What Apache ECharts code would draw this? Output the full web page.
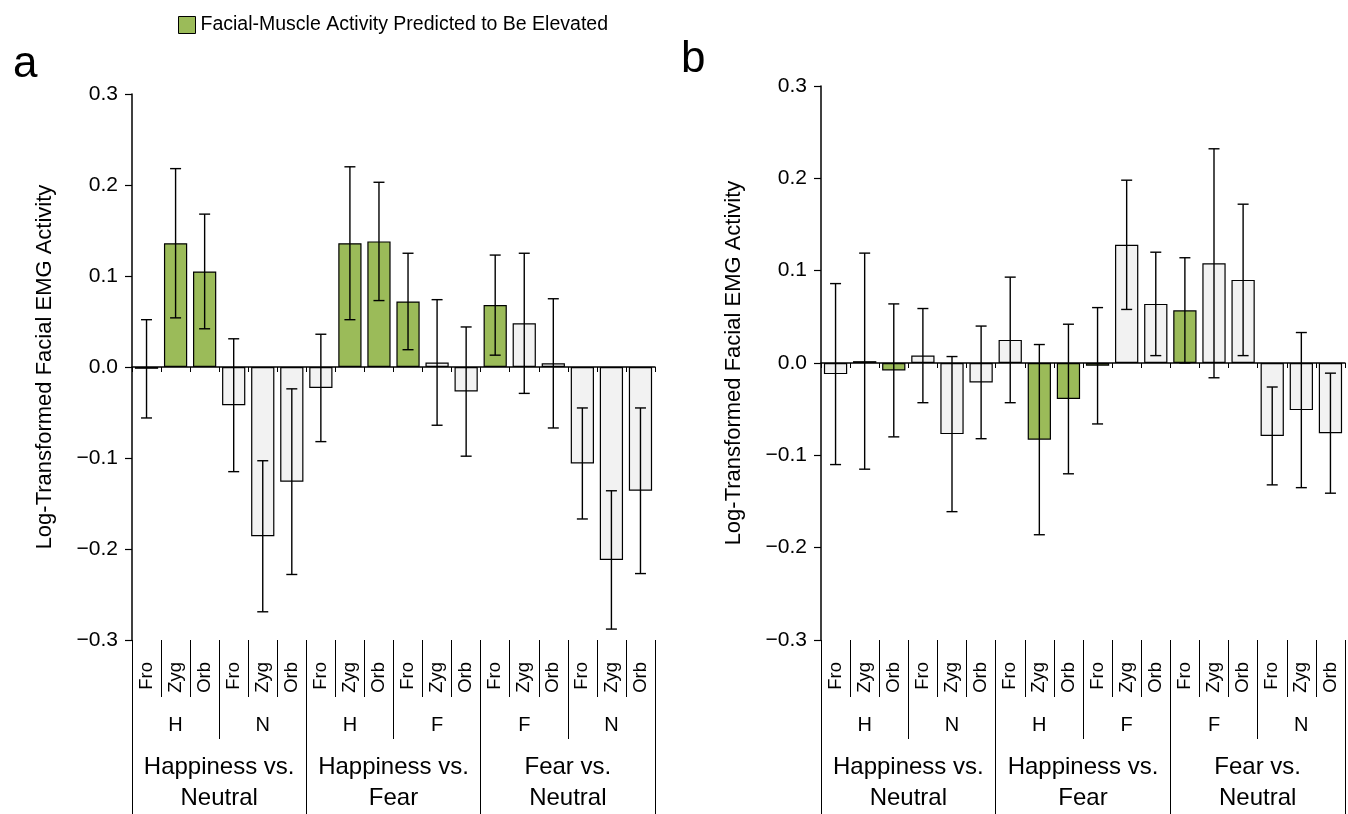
<!DOCTYPE html>
<html>
<head>
<meta charset="utf-8">
<script src="https://cdn.jsdelivr.net/npm/echarts@6/dist/echarts.min.js"></script>
<style>
html,body{margin:0;padding:0;background:#fff;}
#chart{width:1348px;height:814px;}
</style>
</head>
<body>
<div id="chart"></div>
<script>
// ---- data ----
const muscles = ['Fro','Zyg','Orb','Fro','Zyg','Orb','Fro','Zyg','Orb','Fro','Zyg','Orb','Fro','Zyg','Orb','Fro','Zyg','Orb'];
const contrasts = ['H','N','H','F','F','N'];
const comparisons = ['Happiness vs.\nNeutral','Happiness vs.\nFear','Fear vs.\nNeutral'];
const predicted = [0,1,1,0,0,0, 0,1,1,1,0,0, 1,0,0,0,0,0];
const meansA = [-0.002, 0.136, 0.105, -0.042, -0.186, -0.126, -0.023, 0.136, 0.138, 0.072, 0.005, -0.027, 0.068, 0.048, 0.004, -0.106, -0.212, -0.136];
const errA   = [0.054, 0.082, 0.063, 0.073, 0.083, 0.102, 0.059, 0.084, 0.065, 0.053, 0.069, 0.071, 0.055, 0.077, 0.071, 0.061, 0.076, 0.091];
const meansB = [-0.012, 0.002, -0.008, 0.008, -0.077, -0.021, 0.025, -0.083, -0.039, -0.003, 0.128, 0.064, 0.057, 0.108, 0.090, -0.079, -0.051, -0.076];
const errB   = [0.098, 0.117, 0.072, 0.051, 0.084, 0.061, 0.068, 0.103, 0.081, 0.063, 0.070, 0.056, 0.057, 0.124, 0.082, 0.053, 0.084, 0.065];
const yTicks = {min: -0.3, max: 0.3, interval: 0.1};
const legendName = 'Facial-Muscle Activity Predicted to Be Elevated';
const yTitle = 'Log-Transformed Facial EMG Activity';

// ---- styling ----
const FONT = '"Liberation Sans", Arial, sans-serif';
const GREEN = '#9bbb59';
const GRAY = '#f2f2f2';
const BLACK = '#000';

const chart = echarts.init(document.getElementById('chart'));

const grids = [
  {left: 132, right: 693, top: 94, bottom: 173},
  {left: 821, right: 3, top: 86, bottom: 174}
];

const xAxes = [];
const yAxes = [];
const series = [];

function addPanel(g, means, errs) {
  const base = xAxes.length;
  // main axis (zero line)
  xAxes.push({
    type: 'category', gridIndex: g, data: muscles, position: 'bottom',
    axisLine: {show: true, onZero: true, lineStyle: {color: BLACK, width: 1.5}},
    axisTick: {show: true, interval: 0, length: 5, lineStyle: {color: BLACK, width: 1}},
    axisLabel: {show: false}, splitLine: {show: false}
  });
  // muscle labels
  xAxes.push({
    type: 'category', gridIndex: g, data: muscles, position: 'bottom', offset: 0,
    axisLine: {show: false, onZero: false},
    axisTick: {show: true, interval: 0, length: 57, lineStyle: {color: BLACK, width: 1}},
    axisLabel: {show: true, interval: 0, rotate: 90, margin: 22, fontSize: 18.5, color: BLACK, fontFamily: FONT},
    splitLine: {show: false}
  });
  // contrast labels
  xAxes.push({
    type: 'category', gridIndex: g, data: contrasts, position: 'bottom', offset: 0,
    axisLine: {show: false, onZero: false},
    axisTick: {show: true, interval: 0, length: 99, lineStyle: {color: BLACK, width: 1}},
    axisLabel: {show: true, interval: 0, margin: 85, verticalAlign: 'middle', fontSize: 20, color: BLACK, fontFamily: FONT},
    splitLine: {show: false}
  });
  // comparison labels
  xAxes.push({
    type: 'category', gridIndex: g, data: comparisons, position: 'bottom', offset: 0,
    axisLine: {show: false, onZero: false},
    axisTick: {show: true, interval: 0, length: 180, lineStyle: {color: BLACK, width: 1}},
    axisLabel: {show: true, interval: 0, margin: 143, verticalAlign: 'middle', fontSize: 24, lineHeight: 31, color: BLACK, fontFamily: FONT},
    splitLine: {show: false}
  });
  yAxes.push({
    type: 'value', gridIndex: g, min: yTicks.min, max: yTicks.max, interval: yTicks.interval,
    name: yTitle, nameLocation: 'middle', nameGap: 76,
    nameTextStyle: {fontSize: 22, color: BLACK, fontFamily: FONT},
    axisLine: {show: true, lineStyle: {color: BLACK, width: 1.5}},
    axisTick: {show: true, length: 7, lineStyle: {color: BLACK, width: 1.2}},
    axisLabel: {
      fontSize: 21, color: BLACK, margin: 14, fontFamily: FONT,
      formatter: v => (v < -1e-9 ? '\u2212' : '') + Math.abs(v).toFixed(1)
    },
    splitLine: {show: false}
  });
  series.push({
    type: 'bar', name: legendName, xAxisIndex: base, yAxisIndex: g,
    barWidth: '80%',
    itemStyle: {color: GREEN, borderColor: BLACK, borderWidth: 1.2},
    data: means.map((v, i) => ({value: v, itemStyle: {color: predicted[i] ? GREEN : GRAY}})),
    z: 2
  });
  series.push({
    type: 'custom', xAxisIndex: base, yAxisIndex: g, z: 5,
    encode: {x: 0, y: [1, 2]},
    data: means.map((v, i) => [i, v - errs[i], v + errs[i]]),
    renderItem: function (params, api) {
      const i = api.value(0);
      const lo = api.coord([i, api.value(1)]);
      const hi = api.coord([i, api.value(2)]);
      const cap = 5.5;
      const st = {stroke: BLACK, lineWidth: 1.4};
      return {
        type: 'group',
        children: [
          {type: 'line', shape: {x1: hi[0], y1: hi[1], x2: lo[0], y2: lo[1]}, style: st},
          {type: 'line', shape: {x1: hi[0] - cap, y1: hi[1], x2: hi[0] + cap, y2: hi[1]}, style: st},
          {type: 'line', shape: {x1: lo[0] - cap, y1: lo[1], x2: lo[0] + cap, y2: lo[1]}, style: st}
        ]
      };
    }
  });
}

addPanel(0, meansA, errA);
addPanel(1, meansB, errB);

chart.setOption({
  animation: false,
  backgroundColor: '#fff',
  textStyle: {fontFamily: FONT},
  title: [
    {text: 'a', left: 8, top: 38, textStyle: {fontSize: 44, fontWeight: 'normal', color: BLACK, fontFamily: FONT}},
    {text: 'b', left: 676, top: 33, textStyle: {fontSize: 44, fontWeight: 'normal', color: BLACK, fontFamily: FONT}}
  ],
  legend: {
    data: [legendName], left: 173, top: 10, itemWidth: 17, itemHeight: 17, icon: 'rect',
    itemStyle: {color: GREEN, borderColor: BLACK, borderWidth: 1},
    textStyle: {fontSize: 19.5, color: BLACK, fontFamily: FONT},
    selectedMode: false
  },
  grid: grids,
  xAxis: xAxes,
  yAxis: yAxes,
  series: series
});
</script>
</body>
</html>
